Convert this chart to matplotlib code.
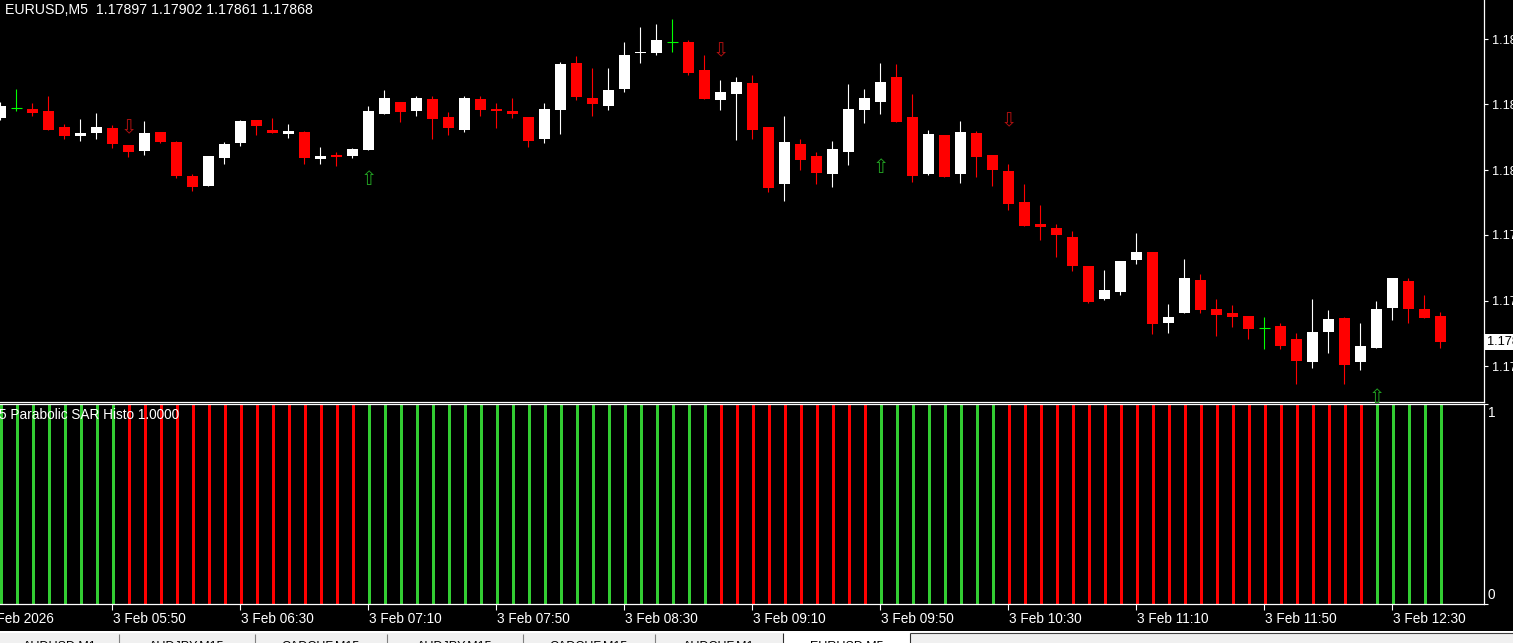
import numpy as np
import matplotlib
matplotlib.use("Agg")
import matplotlib.pyplot as plt
from matplotlib.patches import Rectangle

plt.rcParams['font.family'] = ['Liberation Sans', 'DejaVu Sans']

symbol, period = "EURUSD", "M5"

# OHLC of the 91 visible M5 bars
opens = [1.18123, 1.18135, 1.18134, 1.18131, 1.18113, 1.18103, 1.18106, 1.18112, 1.18093, 1.18086,
         1.18107, 1.18096, 1.18057, 1.18046, 1.18078, 1.18095, 1.18121, 1.18110, 1.18105, 1.18107,
         1.18077, 1.18081, 1.18080, 1.18087, 1.18128, 1.18142, 1.18131, 1.18145, 1.18124, 1.18110,
         1.18145, 1.18134, 1.18131, 1.18124, 1.18099, 1.18133, 1.18186, 1.18146, 1.18137, 1.18156,
         1.18197, 1.18197, 1.18210, 1.18210, 1.18178, 1.18144, 1.18151, 1.18163, 1.18113, 1.18048,
         1.18094, 1.18080, 1.18059, 1.18085, 1.18133, 1.18142, 1.18170, 1.18124, 1.18059, 1.18104,
         1.18059, 1.18106, 1.18081, 1.18063, 1.18028, 1.18002, 1.17998, 1.17988, 1.17954, 1.17917,
         1.17925, 1.17961, 1.17971, 1.17890, 1.17901, 1.17939, 1.17906, 1.17901, 1.17898, 1.17884,
         1.17886, 1.17871, 1.17845, 1.17879, 1.17895, 1.17845, 1.17861, 1.17907, 1.17937, 1.17905,
         1.17897]
highs = [1.18142, 1.18157, 1.18140, 1.18148, 1.18116, 1.18122, 1.18129, 1.18115, 1.18093, 1.18120,
         1.18107, 1.18097, 1.18060, 1.18080, 1.18096, 1.18121, 1.18121, 1.18123, 1.18116, 1.18108,
         1.18090, 1.18085, 1.18089, 1.18137, 1.18155, 1.18142, 1.18149, 1.18148, 1.18130, 1.18149,
         1.18149, 1.18141, 1.18146, 1.18124, 1.18141, 1.18187, 1.18194, 1.18180, 1.18181, 1.18210,
         1.18227, 1.18231, 1.18236, 1.18212, 1.18195, 1.18167, 1.18170, 1.18172, 1.18113, 1.18126,
         1.18100, 1.18085, 1.18097, 1.18162, 1.18157, 1.18186, 1.18185, 1.18151, 1.18110, 1.18104,
         1.18120, 1.18108, 1.18081, 1.18071, 1.18048, 1.18024, 1.18002, 1.17994, 1.17955, 1.17950,
         1.17960, 1.17992, 1.17971, 1.17911, 1.17962, 1.17946, 1.17917, 1.17910, 1.17898, 1.17896,
         1.17889, 1.17878, 1.17917, 1.17904, 1.17896, 1.17889, 1.17915, 1.17941, 1.17941, 1.17921,
         1.17902]
lows = [1.18121, 1.18131, 1.18126, 1.18110, 1.18099, 1.18097, 1.18100, 1.18089, 1.18079, 1.18081,
        1.18095, 1.18055, 1.18040, 1.18046, 1.18071, 1.18091, 1.18104, 1.18106, 1.18101, 1.18071,
        1.18071, 1.18069, 1.18078, 1.18087, 1.18128, 1.18119, 1.18126, 1.18099, 1.18104, 1.18107,
        1.18126, 1.18112, 1.18123, 1.18090, 1.18095, 1.18105, 1.18144, 1.18126, 1.18133, 1.18153,
        1.18186, 1.18195, 1.18199, 1.18173, 1.18145, 1.18132, 1.18098, 1.18099, 1.18039, 1.18029,
        1.18064, 1.18048, 1.18045, 1.18070, 1.18118, 1.18128, 1.18119, 1.18050, 1.18058, 1.18056,
        1.18049, 1.18056, 1.18046, 1.18018, 1.18000, 1.17984, 1.17965, 1.17949, 1.17912, 1.17916,
        1.17922, 1.17957, 1.17877, 1.17878, 1.17901, 1.17901, 1.17875, 1.17885, 1.17871, 1.17860,
        1.17860, 1.17820, 1.17838, 1.17855, 1.17820, 1.17836, 1.17861, 1.17893, 1.17890, 1.17895,
        1.17861]
closes = [1.18137, 1.18135, 1.18129, 1.18110, 1.18103, 1.18106, 1.18113, 1.18094, 1.18085, 1.18106,
          1.18096, 1.18057, 1.18045, 1.18080, 1.18094, 1.18120, 1.18114, 1.18106, 1.18108, 1.18078,
          1.18080, 1.18079, 1.18088, 1.18131, 1.18146, 1.18130, 1.18146, 1.18122, 1.18112, 1.18146,
          1.18132, 1.18131, 1.18128, 1.18097, 1.18134, 1.18185, 1.18147, 1.18139, 1.18155, 1.18195,
          1.18199, 1.18212, 1.18210, 1.18175, 1.18145, 1.18153, 1.18165, 1.18110, 1.18044, 1.18096,
          1.18075, 1.18061, 1.18088, 1.18134, 1.18146, 1.18164, 1.18119, 1.18057, 1.18105, 1.18056,
          1.18107, 1.18079, 1.18064, 1.18025, 1.18000, 1.17999, 1.17990, 1.17955, 1.17914, 1.17927,
          1.17960, 1.17970, 1.17888, 1.17896, 1.17941, 1.17904, 1.17899, 1.17896, 1.17883, 1.17884,
          1.17863, 1.17846, 1.17879, 1.17894, 1.17842, 1.17863, 1.17906, 1.17941, 1.17906, 1.17895,
          1.17868]

# parabolic SAR direction: (+1 up / -1 down, number of bars)
trend_runs = [(1, 8), (-1, 15), (1, 22), (-1, 10), (1, 8), (-1, 23), (1, 5)]

# SAR flip arrows on the price window
arrow_bars = [8, 23, 45, 55, 63, 86]
arrow_prices = [1.18112, 1.18053, 1.18200, 1.18067, 1.18120, 1.17805]

price_ticks = [1.17840, 1.17915, 1.17990, 1.18064, 1.18139, 1.18213]
price_range = (1.17800, 1.18258)

time_bars = [-1, 7, 15, 23, 31, 39, 47, 55, 63, 71, 79, 87]
time_labels = ["3 Feb 2026", "3 Feb 05:50", "3 Feb 06:30", "3 Feb 07:10", "3 Feb 07:50",
               "3 Feb 08:30", "3 Feb 09:10", "3 Feb 09:50", "3 Feb 10:30", "3 Feb 11:10",
               "3 Feb 11:50", "3 Feb 12:30"]

tab_names = ["AUDUSD,M1", "AUDJPY,M15", "CADCHF,M15", "AUDJPY,M15", "CADCHF,M15",
             "AUDCHF,M1", "EURUSD,M5"]
tab_edges = [0, 119, 255, 387, 523, 655, 783, 910]

o = np.array(opens); h = np.array(highs); l = np.array(lows); c = np.array(closes)
n = len(o)
x = np.arange(n)
trend = np.concatenate([[d] * k for d, k in trend_runs])

W, H = 1513, 643
fig = plt.figure(figsize=(W / 100, H / 100), dpi=100, facecolor='black')
ax = fig.add_axes([0, 1 - 401.5 / H, 1484 / W, 401.5 / H], facecolor='black')
ax2 = fig.add_axes([0, 1 - 604 / H, 1484 / W, 200.5 / H], facecolor='black')

xl = (-0.03, 92.72)
fs = 9.8

# candles
up = c > o
dj = c == o
wick_col = np.where(up, 'white', 'red')
ax.vlines(x[~dj], l[~dj], h[~dj], colors=wick_col[~dj], lw=0.8)
body_h = np.maximum(np.abs(c - o), 1.2e-5)
body_col = np.where(up, 'white', 'red')
ax.bar(x[~dj], body_h[~dj], bottom=np.minimum(o, c)[~dj], width=11 / 16,
       color=body_col[~dj], linewidth=0)
ax.vlines(x[dj], l[dj], h[dj], colors='#00FF00', lw=0.8)
ax.hlines(o[dj], x[dj] - 0.34, x[dj] + 0.34, colors='#00FF00', lw=0.8)

for b, p in zip(arrow_bars, arrow_prices):
    is_up = trend[b] > 0
    ax.text(b, p, "\u21e7" if is_up else "\u21e9", ha='center', va='center',
            fontsize=14, family='DejaVu Sans',
            color='#22A022' if is_up else '#B01010')

ax.set_xlim(*xl)
ax.set_ylim(*price_range)
ax.set_xticks([])
ax.yaxis.tick_right()
ax.set_yticks(price_ticks)
ax.set_yticklabels([f"{p:.5f}" for p in price_ticks])
ax.tick_params(axis='y', direction='out', length=3, width=0.8, color='white',
               labelcolor='white', labelsize=9.2, pad=3)
for s in ['top', 'left']:
    ax.spines[s].set_visible(False)
for s in ['right', 'bottom']:
    ax.spines[s].set_color('white')
    ax.spines[s].set_linewidth(0.9)

# current price label
ax.text(1.0 + 3 / 1484, c[-1], f"{c[-1]:.5f}", transform=ax.get_yaxis_transform(),
        ha='left', va='center', color='black', fontsize=9.2, clip_on=False,
        bbox=dict(boxstyle='square,pad=0.15', fc='white', ec='none'))

fig.text(5 / W, 1 - 10 / H,
         f"{symbol},{period}  {o[-1]:.5f} {h[-1]:.5f} {l[-1]:.5f} {c[-1]:.5f}",
         ha='left', va='center', color='white', fontsize=10.2)

# SAR histogram window
ax2.bar(x + 1 / 16, np.ones(n), width=3 / 16, linewidth=0,
        color=np.where(trend > 0, '#32CD32', '#FF0000'))
ax2.set_xlim(*xl)
ax2.set_ylim(0, 1)
ax2.yaxis.tick_right()
ax2.set_yticks([0, 1])
ax2.set_yticklabels([])
ax2.tick_params(axis='y', direction='out', length=3, width=0.8, color='white')
ax2.spines['left'].set_visible(False)
for s in ['right', 'bottom', 'top']:
    ax2.spines[s].set_color('white')
    ax2.spines[s].set_linewidth(0.9)
ax2.text(1.0 + 4 / 1484, 0.955, "1", transform=ax2.transAxes, ha='left', va='center',
         color='white', fontsize=fs)
ax2.text(1.0 + 4 / 1484, 0.045, "0", transform=ax2.transAxes, ha='left', va='center',
         color='white', fontsize=fs)
fig.text(-1 / W, 1 - 415 / H, "5 Parabolic SAR Histo 1.0000", ha='left', va='center',
         color='white', fontsize=fs)

vis = [b for b in time_bars if b >= 0]
ax2.set_xticks(vis)
ax2.set_xticklabels([])
ax2.tick_params(axis='x', direction='out', length=4, width=0.8, color='white')
for b, lab in zip(time_bars, time_labels):
    ax2.text(b + 1 / 16, -0.075, lab, transform=ax2.get_xaxis_transform(), ha='left',
             va='center', color='white', fontsize=fs, clip_on=False)

# terminal tab strip
ax3 = fig.add_axes([0, 0, 1, 12 / H])
ax3.set_xlim(0, W)
ax3.set_ylim(12, 0)
ax3.set_facecolor('black')
ax3.set_xticks([]); ax3.set_yticks([])
for s in ax3.spines.values():
    s.set_visible(False)
ax3.axhspan(0, 1.5, color='white', lw=0)
ax3.axhspan(1.5, 12, color='#F0F0F0', lw=0)
ax3.add_patch(Rectangle((tab_edges[-2], 1.5), tab_edges[-1] - tab_edges[-2], 11,
                        fc='white', ec='none'))
ax3.hlines(1.6, tab_edges[-1], W, colors='#404040', lw=0.8)
ax3.vlines(tab_edges[1:-2], 2.5, 12, colors='#808080', lw=0.8)
ax3.vlines([tab_edges[-2], tab_edges[-1]], 1.5, 12, colors='#303030', lw=0.8)
for i, name in enumerate(tab_names):
    ax3.text((tab_edges[i] + tab_edges[i + 1]) / 2, 9.8, name, ha='center', va='top',
             fontsize=9, color='black', clip_on=True)

fig.savefig("out.png", dpi=100, facecolor='black')
